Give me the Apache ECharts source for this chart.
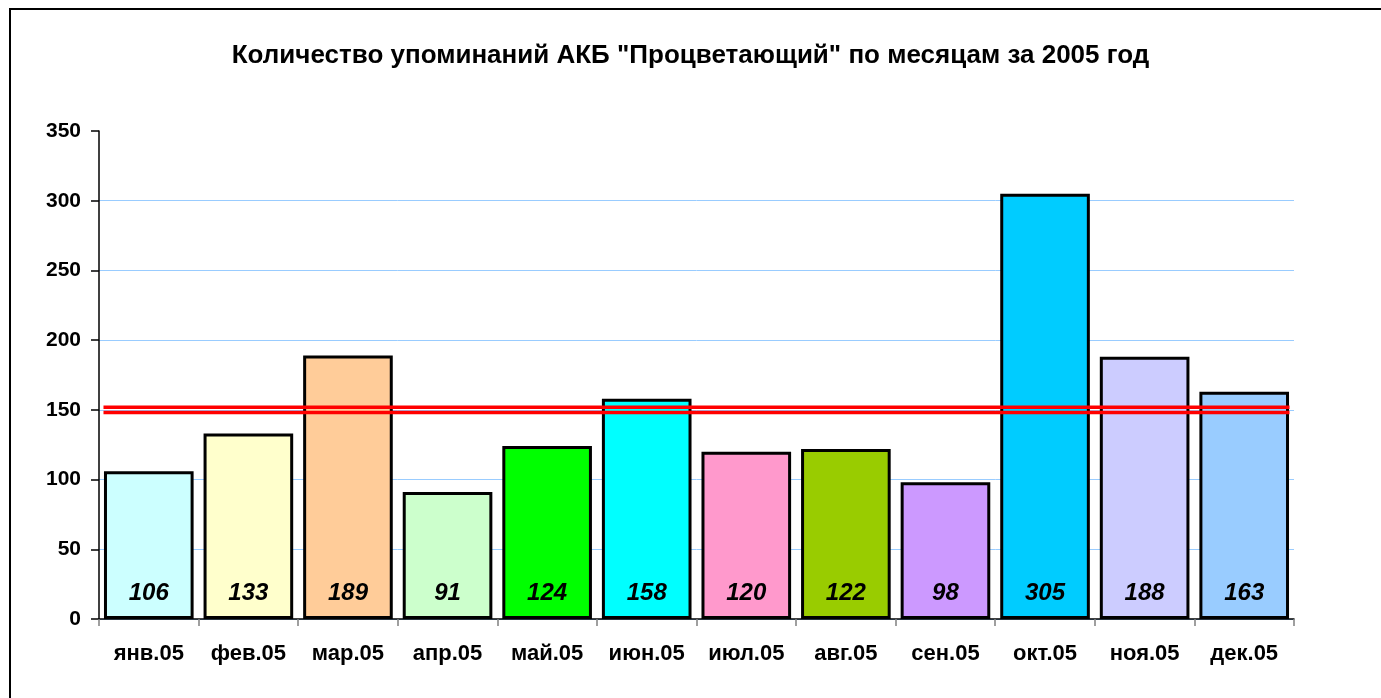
<!DOCTYPE html>
<html>
<head>
<meta charset="utf-8">
<script src="https://cdn.jsdelivr.net/npm/echarts@6/dist/echarts.min.js"></script>
<style>
html,body{margin:0;padding:0;background:#fff;}
#chart{width:1381px;height:698px;}
</style>
</head>
<body>
<div id="chart"></div>
<script>
const titleText = 'Количество упоминаний АКБ "Процветающий" по месяцам за 2005 год';
const categories = ['янв.05','фев.05','мар.05','апр.05','май.05','июн.05','июл.05','авг.05','сен.05','окт.05','ноя.05','дек.05'];
const mentions = [106,133,189,91,124,158,120,122,98,305,188,163];
const barColors = ['#CCFFFF','#FFFFCC','#FFCC99','#CCFFCC','#00FF00','#00FFFF','#FF99CC','#99CC00','#CC99FF','#00CCFF','#CCCCFF','#99CCFF'];
const averageValue = 150;
const yMin = 0, yMax = 350, yStep = 50;

const font = '"Liberation Sans", Arial, sans-serif';
const chart = echarts.init(document.getElementById('chart'));

chart.setOption({
  animation: false,
  backgroundColor: '#ffffff',
  title: {
    text: titleText,
    left: 'center',
    top: 38,
    textStyle: { fontFamily: font, fontSize: 26, fontWeight: 'bold', color: '#000' }
  },
  graphic: [{
    type: 'rect',
    shape: { x: 10, y: 9, width: 1400, height: 720 },
    style: { fill: 'none', stroke: '#000', lineWidth: 2 },
    silent: true,
    z: 100
  }],
  grid: { left: 99, right: 87, top: 131, bottom: 79 },
  xAxis: {
    type: 'category',
    data: categories,
    boundaryGap: true,
    axisLine: { show: true, lineStyle: { color: '#000', width: 1.5 } },
    axisTick: { show: true, length: 7, lineStyle: { color: '#808080', width: 1.5 } },
    axisLabel: { margin: 24, fontFamily: font, fontSize: 22, fontWeight: 'bold', color: '#000' }
  },
  yAxis: {
    type: 'value',
    min: yMin, max: yMax, interval: yStep,
    axisLine: { show: true, lineStyle: { color: '#000', width: 1.5 } },
    axisTick: { show: true, length: 8, lineStyle: { color: '#000', width: 1.5 } },
    axisLabel: { margin: 18, fontFamily: font, fontSize: 21, fontWeight: 'bold', color: '#000' },
    splitLine: { show: true, lineStyle: { color: ['#99CCFF','#99CCFF','#99CCFF','#99CCFF','#99CCFF','#99CCFF','#99CCFF','rgba(0,0,0,0)'], width: 1 } }
  },
  series: [{
    type: 'bar',
    barWidth: '90%',
    data: mentions.map((v, i) => ({ value: v, itemStyle: { color: barColors[i] } })),
    itemStyle: { borderColor: '#000', borderWidth: 3 },
    label: {
      show: true,
      position: 'insideBottom',
      distance: 14,
      fontFamily: font, fontSize: 24, fontWeight: 'bold', fontStyle: 'italic', color: '#000'
    },
    z: 2
  }, {
    type: 'custom',
    data: [[0, averageValue]],
    z: 5,
    silent: true,
    renderItem: function (params, api) {
      const first = api.coord([0, averageValue]);
      const last = api.coord([categories.length - 1, averageValue]);
      const half = api.size([1, 0])[0] * 0.455;
      const x1 = first[0] - half, x2 = last[0] + half, y = first[1];
      return {
        type: 'group',
        children: [
          { type: 'line', shape: { x1: x1, y1: y - 2.6, x2: x2, y2: y - 2.6 }, style: { stroke: '#FF0000', lineWidth: 3.5 } },
          { type: 'line', shape: { x1: x1, y1: y + 2.6, x2: x2, y2: y + 2.6 }, style: { stroke: '#FF0000', lineWidth: 3.5 } }
        ]
      };
    }
  }]
});
</script>
</body>
</html>
